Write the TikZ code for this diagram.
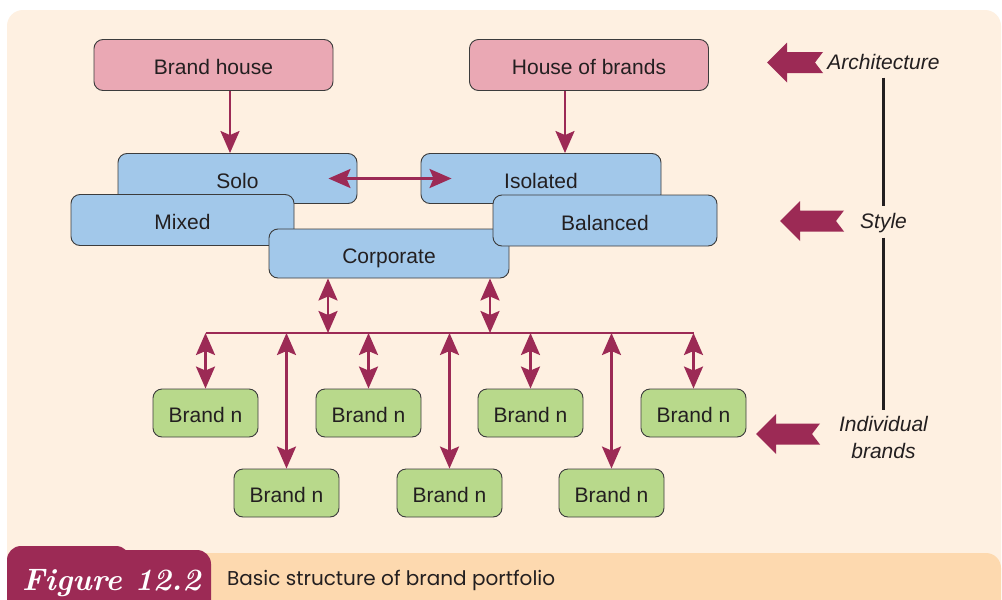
\documentclass[tikz,border=0pt]{standalone}
\usepackage{fontspec}
\newfontfamily\helv{Liberation Sans}
\newfontfamily\capfont{Poppins}
\usetikzlibrary{arrows.meta}
\definecolor{cream}{HTML}{FEF0E1}
\definecolor{peach}{HTML}{FDD9AF}
\definecolor{maroon}{HTML}{9C2A55}
\definecolor{pinkbox}{HTML}{EAA8B4}
\definecolor{bluebox}{HTML}{A2C8EA}
\definecolor{greenbox}{HTML}{B8D98B}
\definecolor{edge}{HTML}{3C3C3C}
\definecolor{ink}{HTML}{231F20}
% left-pointing block arrow with notched tail: tip x, tip y, total length
\newcommand\notcharrow[3]{%
  \fill[maroon] (#1,#2) -- ++(20,-20) -- ++(0,9.5) -- ++({#3-20},0) -- ++(-8,10.5)
    -- ++(8,10.5) -- ++({20-#3},0) -- ++(0,9.5) -- cycle;}
\begin{document}
\begin{tikzpicture}[x=1pt,y=-1pt,
  box/.style={draw=edge, line width=0.9pt, rounded corners=9pt, inner sep=0pt,
    text=ink, font=\helv\fontsize{21}{25}\selectfont, text height=19pt, text depth=0pt},
  archbox/.style={box, fill=pinkbox, minimum width=239pt, minimum height=51pt},
  stylebox/.style={box, fill=bluebox, minimum height=50pt},
  brandbox/.style={box, fill=greenbox, minimum width=105pt, minimum height=48pt},
  side/.style={inner sep=0pt, text=ink, font=\helv\itshape\fontsize{21}{27}\selectfont},
  tipshape/.tip={Stealth[length=22pt,width=19pt,inset=4pt]},
  arr/.style={draw=maroon, line width=2.6pt, -tipshape},
  dbl/.style={draw=maroon, line width=2.6pt, tipshape-tipshape},
  sideline/.style={draw=ink, line width=2.6pt}]
\useasboundingbox (0,0) rectangle (1002,600);
\clip (0,0) rectangle (1002,600);
\fill[white] (0,0) rectangle (1002,600);

% panel and caption band
\fill[cream, rounded corners=16pt] (7,10) rectangle (1001,640);
\fill[peach, rounded corners=15pt] (150,553) rectangle (1001,640);
\fill[maroon, rounded corners=14pt] (7,546) rectangle (130,630);
\fill[maroon, rounded corners=14pt] (98,550) rectangle (211,630);
\node[anchor=base west, inner sep=0pt, text=white,
  font=\normalfont\bfseries\itshape\fontsize{31}{33}\selectfont] (fig) at (22,590) {Figure 12.2};
\node[anchor=base west, inner sep=0pt, text=ink,
  font=\capfont\fontsize{20}{24}\selectfont] (cap) at (227,585) {Basic structure of brand portfolio};

% architecture
\node[archbox] (bh) at (213.5,65) {Brand house};
\node[archbox] (hob) at (589,65) {House of brands};

% styles (stacking order matters)
\node[stylebox, minimum width=239pt] (solo) at (237.5,178.5) {Solo};
\node[stylebox, minimum width=240pt] (iso) at (541,178.5) {Isolated};
\node[stylebox, minimum width=223pt, minimum height=51pt] (mixed) at (182.5,220) {Mixed};
\node[stylebox, minimum width=240pt, minimum height=49pt] (corp) at (389,253.5) {Corporate};
\node[stylebox, minimum width=224pt, minimum height=51pt] (bal) at (605,220.5) {Balanced};

% individual brands
\node[brandbox] (b1) at (205.5,413) {Brand n};
\node[brandbox] (b2) at (368.5,413) {Brand n};
\node[brandbox] (b3) at (530.5,413) {Brand n};
\node[brandbox] (b4) at (693.5,413) {Brand n};
\node[brandbox] (c1) at (286.5,493) {Brand n};
\node[brandbox] (c2) at (449.5,493) {Brand n};
\node[brandbox] (c3) at (611.5,493) {Brand n};

% connectors
\draw[arr] ([xshift=16.5pt]bh.south) -- ([xshift=16.5pt]bh.south |- solo.north);
\draw[arr] ([xshift=-24pt]hob.south) -- ([xshift=-24pt]hob.south |- iso.north);
\draw[dbl, shorten <=-29pt, shorten >=-31pt] (solo.east) -- (iso.west);

\coordinate (busL) at (205.5,333);
\coordinate (busR) at (693.5,333);
\draw[draw=maroon, line width=2.6pt] (busL) -- (busR);
\draw[dbl] ([xshift=-61pt]corp.south) -- ([xshift=-61pt]corp.south |- busL);
\draw[dbl] ([xshift=101pt]corp.south) -- ([xshift=101pt]corp.south |- busL);
\foreach \b in {b1,b2,b3,b4,c1,c2,c3}
  \draw[dbl] (\b.north |- busL) -- (\b.north);

% levels on the right
\node[side, text height=15pt, text depth=0pt] (arch) at (883.5,62) {Architecture};
\node[side, text height=15pt, text depth=0pt] (sty) at (883.5,221) {Style};
\node[side, align=center] (ind) at (883.5,437) {Individual\\brands};
\draw[sideline, shorten <=8pt, shorten >=7pt] (arch.south) -- (sty.north);
\draw[sideline, shorten <=9pt, shorten >=6pt] (sty.south) -- (ind.north);
\notcharrow{767}{62.5}{56}
\notcharrow{780}{221}{64}
\notcharrow{756}{434}{64}
\end{tikzpicture}
\end{document}
